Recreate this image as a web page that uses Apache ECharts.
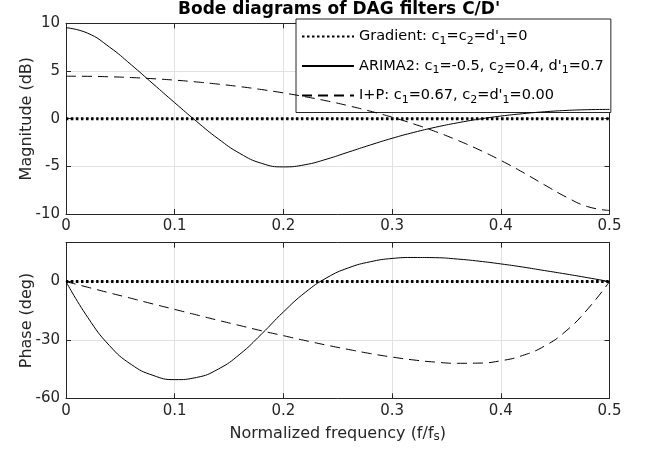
<!DOCTYPE html>
<html>
<head>
<meta charset="utf-8">
<script src="https://cdn.jsdelivr.net/npm/echarts@6/dist/echarts.min.js"></script>
<style>
html,body{margin:0;padding:0;background:#fff;}
#chart{width:646px;height:449px;}
</style>
</head>
<body>
<div id="chart"></div>
<script>
// Normalized frequency (f/fs)
const freq = [0, 0.02, 0.04, 0.06, 0.08, 0.10, 0.12, 0.14, 0.16, 0.18, 0.20, 0.22, 0.24,
              0.26, 0.28, 0.30, 0.32, 0.34, 0.36, 0.38, 0.40, 0.42, 0.44, 0.46, 0.48, 0.50];
// Magnitude (dB)
const magGradient = [0,0,0,0,0,0,0,0,0,0,0,0,0,0,0,0,0,0,0,0,0,0,0,0,0,0];
const magARIMA2 = [9.54, 8.96, 7.51, 5.65, 3.66, 1.67, -0.28, -2.11, -3.65, -4.69, -5.06, -4.83, -4.24,
                   -3.50, -2.76, -2.06, -1.44, -0.90, -0.44, -0.05, 0.27, 0.52, 0.72, 0.86, 0.94, 0.97];
const magIP = [4.45, 4.44, 4.39, 4.31, 4.19, 4.04, 3.85, 3.62, 3.36, 3.05, 2.70, 2.30, 1.86,
               1.35, 0.78, 0.15, -0.56, -1.36, -2.26, -3.26, -4.38, -5.61, -6.93, -8.21, -9.23, -9.63];
// Phase (deg)
const phGradient = [0,0,0,0,0,0,0,0,0,0,0,0,0,0,0,0,0,0,0,0,0,0,0,0,0,0];
const phARIMA2 = [0, -18.4, -32.9, -42.6, -48.2, -50.4, -49.3, -45.0, -37.3, -26.9, -15.6, -5.6, 2.0,
                  7.1, 10.2, 11.9, 12.4, 12.3, 11.6, 10.5, 9.1, 7.5, 5.7, 3.9, 2.0, 0];
const phIP = [0, -2.9, -5.8, -8.6, -11.5, -14.3, -17.1, -19.9, -22.6, -25.3, -27.8, -30.3, -32.7,
              -34.9, -37.0, -38.8, -40.3, -41.4, -42.0, -41.9, -40.7, -38.0, -33.2, -25.4, -14.1, 0];
// Ticks
const xTicks = {min: 0, max: 0.5, interval: 0.1};
const magTicks = {min: -10, max: 10, interval: 5};
const phTicks = {min: -60, max: 20, interval: 30};

const seriesNames = ['Gradient', 'ARIMA2', 'I+P'];
const legendLabels = {
  'Gradient': "{t|Gradient: c}{s|1}{t|=c}{s|2}{t|=d'}{s|1}{t|=0}",
  'ARIMA2': "{t|ARIMA2: c}{s|1}{t|=-0.5, c}{s|2}{t|=0.4, d'}{s|1}{t|=0.7}",
  'I+P': "{t|I+P: c}{s|1}{t|=0.67, c}{s|2}{t|=d'}{s|1}{t|=0.00}"
};

const FONT = 'DejaVu Sans';
const AX = '#262626';
const GRIDC = '#e2e2e2';
const TICKFS = 15;
const NAMEFS = 16;

function pairs(xs, ys) { return xs.map((x, i) => [x, ys[i]]); }

function xAxis(grid, pos, labels, extra) {
  return Object.assign({
    type: 'value', gridIndex: grid, position: pos,
    min: xTicks.min, max: xTicks.max, interval: xTicks.interval,
    axisLine: {show: true, onZero: false, lineStyle: {color: AX, width: 1}},
    axisTick: {show: true, inside: true, length: 5, lineStyle: {color: AX, width: 1}},
    axisLabel: {show: labels, color: AX, fontSize: TICKFS, fontFamily: FONT, margin: 5,
                formatter: v => String(Math.round(v * 10) / 10)},
    splitLine: {show: labels, lineStyle: {color: GRIDC, width: 1}}
  }, extra || {});
}
function yAxis(grid, pos, labels, t, extra) {
  return Object.assign({
    type: 'value', gridIndex: grid, position: pos,
    min: t.min, max: t.max, interval: t.interval,
    axisLine: {show: true, onZero: false, lineStyle: {color: AX, width: 1}},
    axisTick: {show: true, inside: true, length: 5, lineStyle: {color: AX, width: 1}},
    axisLabel: {show: labels, color: AX, fontSize: TICKFS, fontFamily: FONT, margin: 6,
                formatter: v => (v > t.max - 1e-9 && (v - t.min) % t.interval !== 0) ? '' : String(v)},
    splitLine: {show: labels, lineStyle: {color: GRIDC, width: 1}}
  }, extra || {});
}

const styles = {
  'Gradient': {color: '#000', width: 3, type: [2.5, 2.5], cap: 'butt'},
  'ARIMA2': {color: '#000', width: 1, type: 'solid'},
  'I+P': {color: '#000', width: 1, type: [10, 6]}
};

function line(name, xi, yi, data) {
  return {
    name: name, type: 'line', xAxisIndex: xi, yAxisIndex: yi,
    data: data, smooth: true, symbol: 'none', showSymbol: false,
    lineStyle: styles[name], itemStyle: {color: '#000'},
    emphasis: {disabled: true}, silent: true,
    z: name === 'Gradient' ? 3 : 4
  };
}

const option = {
  animation: false,
  backgroundColor: '#ffffff',
  textStyle: {fontFamily: FONT},
  title: {
    text: "Bode diagrams of DAG filters C/D'",
    left: 178, top: 0, padding: 0,
    textStyle: {fontSize: 17, fontWeight: 'bold', color: '#000', fontFamily: FONT, lineHeight: 19}
  },
  legend: {
    data: seriesNames,
    orient: 'vertical', left: 296, top: 19,
    itemWidth: 52, itemHeight: 10, itemGap: 12,
    padding: [10, 7, 7, 5],
    backgroundColor: '#ffffff', borderColor: AX, borderWidth: 1, borderRadius: 0,
    selectedMode: false,
    itemStyle: {opacity: 0},
    formatter: n => legendLabels[n],
    textStyle: {
      color: '#000', fontSize: 14.5, fontFamily: FONT,
      rich: {
        t: {fontSize: 14.5, lineHeight: 20, fontFamily: FONT, color: '#000', verticalAlign: 'middle'},
        s: {fontSize: 11, lineHeight: 9, fontFamily: FONT, color: '#000', verticalAlign: 'bottom'}
      }
    }
  },
  grid: [
    {left: 66, right: 36.5, top: 23.3, bottom: 235, outerBoundsMode: 'none', containLabel: false},
    {left: 66, right: 36.5, top: 242.7, bottom: 50.7, outerBoundsMode: 'none', containLabel: false}
  ],
  xAxis: [
    xAxis(0, 'bottom', true),
    xAxis(0, 'top', false),
    xAxis(1, 'bottom', true, {
      name: '{a|Normalized frequency (f/f}{b|s}{a|)}',
      nameLocation: 'middle', nameGap: 26, nameMoveOverlap: false,
      nameTextStyle: {
        rich: {
          a: {fontSize: NAMEFS, lineHeight: 19, color: AX, fontFamily: FONT, verticalAlign: 'middle'},
          b: {fontSize: 12, lineHeight: 9, color: AX, fontFamily: FONT, verticalAlign: 'bottom'}
        }
      }
    }),
    xAxis(1, 'top', false)
  ],
  yAxis: [
    yAxis(0, 'left', true, magTicks, {
      name: 'Magnitude (dB)', nameLocation: 'middle', nameGap: 31, nameMoveOverlap: false,
      nameTextStyle: {fontSize: NAMEFS, color: AX, fontFamily: FONT}
    }),
    yAxis(0, 'right', false, magTicks),
    yAxis(1, 'left', true, phTicks, {
      name: 'Phase (deg)', nameLocation: 'middle', nameGap: 31, nameMoveOverlap: false,
      nameTextStyle: {fontSize: NAMEFS, color: AX, fontFamily: FONT}
    }),
    yAxis(1, 'right', false, phTicks)
  ],
  series: [
    line('Gradient', 0, 0, pairs(freq, magGradient)),
    line('ARIMA2', 0, 0, pairs(freq, magARIMA2)),
    line('I+P', 0, 0, pairs(freq, magIP)),
    line('Gradient', 2, 2, pairs(freq, phGradient)),
    line('ARIMA2', 2, 2, pairs(freq, phARIMA2)),
    line('I+P', 2, 2, pairs(freq, phIP))
  ]
};

const chart = echarts.init(document.getElementById('chart'), null, {renderer: 'canvas'});
chart.setOption(option);
</script>
</body>
</html>
